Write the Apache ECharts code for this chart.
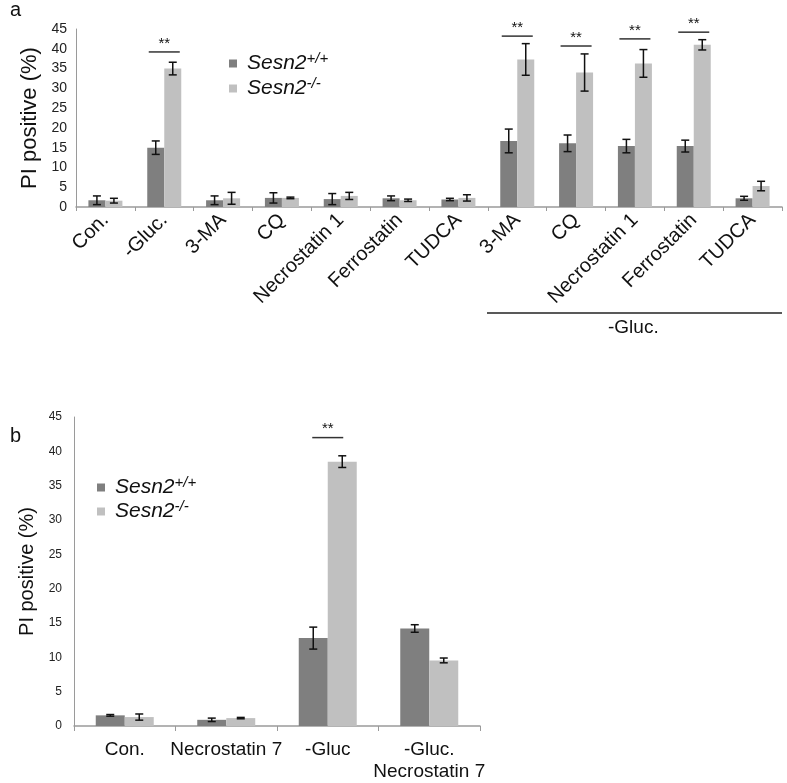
<!DOCTYPE html>
<html>
<head>
<meta charset="utf-8">
<script src="https://cdn.jsdelivr.net/npm/echarts@6/dist/echarts.min.js"></script>
<style>html,body{margin:0;padding:0;background:#fff}#c{width:787px;height:783px}</style>
</head>
<body>
<div id="c"></div>
<script>
// Panel a
const catsA = ['Con.', '-Gluc.', '3-MA', 'CQ', 'Necrostatin 1', 'Ferrostatin', 'TUDCA', '3-MA', 'CQ', 'Necrostatin 1', 'Ferrostatin', 'TUDCA'];
const wtA    = [1.7, 15.0, 1.7, 2.3, 2.0, 2.2, 1.9, 16.7, 16.1, 15.4, 15.4, 2.2];
const wtErrA = [1.1, 1.7, 1.1, 1.3, 1.4, 0.6, 0.3, 3.0, 2.1, 1.7, 1.5, 0.5];
const koA    = [1.6, 35.0, 2.2, 2.3, 2.8, 1.7, 2.3, 37.3, 34.0, 36.3, 41.0, 5.3];
const koErrA = [0.6, 1.6, 1.5, 0.2, 0.9, 0.3, 0.8, 4.0, 4.7, 3.5, 1.3, 1.2];
const sigA   = [[1, 39.2], [7, 43.2], [8, 40.7], [9, 42.5], [10, 44.2]];
// Panel b
const catsB = ['Con.', 'Necrostatin 7', '-Gluc', '-Gluc.\nNecrostatin 7'];
const wtB    = [1.55, 0.9, 12.8, 14.2];
const wtErrB = [0.12, 0.25, 1.6, 0.55];
const koB    = [1.3, 1.15, 38.5, 9.55];
const koErrB = [0.45, 0.1, 0.85, 0.35];
const sigB   = [[2, 42.0]];

const WT = 'Sesn2+/+', KO = 'Sesn2-/-';
const DARK = '#7f7f7f', LIGHT = '#c0c0c0';
const FONT = 'Liberation Sans, Arial, sans-serif';

function errSeries(vals, errs, axis, off) {
  return {
    type: 'custom', xAxisIndex: axis, yAxisIndex: axis, silent: true, z: 5,
    data: vals.map((v, i) => [i, v, errs[i]]),
    renderItem: function (p, api) {
      const i = api.value(0), v = api.value(1), e = api.value(2);
      const bw = api.size([1, 0])[0];
      const x = api.coord([i, v])[0] + off * bw;
      const t = api.coord([i, v + e])[1], b = api.coord([i, v - e])[1];
      const cap = 4, st = { stroke: '#111', lineWidth: 1.5 };
      return { type: 'group', children: [
        { type: 'line', shape: { x1: x, y1: t, x2: x, y2: b }, style: st },
        { type: 'line', shape: { x1: x - cap, y1: t, x2: x + cap, y2: t }, style: st },
        { type: 'line', shape: { x1: x - cap, y1: b, x2: x + cap, y2: b }, style: st }
      ]};
    }
  };
}
function sigSeries(data, axis, half) {
  return {
    type: 'custom', xAxisIndex: axis, yAxisIndex: axis, silent: true, z: 6,
    data: data,
    renderItem: function (p, api) {
      const c = api.coord([api.value(0), api.value(1)]);
      const bw = api.size([1, 0])[0];
      const h = bw * half;
      return { type: 'group', children: [
        { type: 'line', shape: { x1: c[0] - h, y1: c[1], x2: c[0] + h, y2: c[1] }, style: { stroke: '#333', lineWidth: 1.5 } },
        { type: 'text', style: { x: c[0], y: c[1] - 1, text: '**', fill: '#111', font: '15px ' + FONT, align: 'center', verticalAlign: 'bottom' } }
      ]};
    }
  };
}

const legendRich = {
  i: { fontSize: 21, fontStyle: 'italic', fontFamily: FONT, color: '#111', lineHeight: 24, padding: [0, 0, 0, 5] },
  s: { fontSize: 15, fontStyle: 'italic', fontFamily: FONT, color: '#111', verticalAlign: 'top', padding: [0, 0, 10, 0] }
};
const legendFmt = n => n === WT ? '{i|Sesn2}{s|+/+}' : '{i|Sesn2}{s|-/-}';

function yAxis(idx, fs, margin, gap, nfs) {
  return {
    type: 'value', gridIndex: idx, min: 0, max: 45, interval: 5,
    axisLine: { show: true, lineStyle: { color: '#9a9a9a', width: 1 } },
    axisTick: { show: false }, splitLine: { show: false },
    axisLabel: { fontSize: fs, color: '#222', fontFamily: FONT, margin: margin },
    name: 'PI positive (%)', nameLocation: 'middle', nameGap: gap,
    nameTextStyle: { fontSize: nfs, color: '#111', fontFamily: FONT }
  };
}

const chart = echarts.init(document.getElementById('c'));
chart.setOption({
  animation: false,
  backgroundColor: '#fff',
  grid: [
    { left: 76, top: 29, width: 706, height: 178 },
    { left: 74, top: 417, width: 406, height: 312 }
  ],
  xAxis: [
    { type: 'category', gridIndex: 0, data: catsA,
      axisLine: { lineStyle: { color: '#9a9a9a', width: 1.5 } },
      axisTick: { show: true, length: 4, lineStyle: { color: '#9a9a9a' } },
      axisLabel: { interval: 0, rotate: 45, fontSize: 20, color: '#111', fontFamily: FONT, margin: 10 } },
    { type: 'category', gridIndex: 1, data: catsB,
      axisLine: { lineStyle: { color: '#9a9a9a', width: 1.5 } },
      axisTick: { show: true, length: 5, lineStyle: { color: '#9a9a9a' } },
      axisLabel: { interval: 0, fontSize: 19, color: '#111', fontFamily: FONT, margin: 13, lineHeight: 22 } }
  ],
  yAxis: [ yAxis(0, 14, 9, 30, 22), yAxis(1, 12, 12, 29, 20) ],
  legend: [
    { data: [WT, KO], orient: 'vertical', left: 229, top: 51, padding: 0, itemWidth: 8, itemHeight: 8, itemGap: 2, icon: 'rect',
      formatter: legendFmt, textStyle: { rich: legendRich }, selectedMode: false },
    { data: [WT, KO], orient: 'vertical', left: 97, top: 475, padding: 0, itemWidth: 8, itemHeight: 8, itemGap: 1, icon: 'rect',
      formatter: legendFmt, textStyle: { rich: legendRich }, selectedMode: false }
  ],
  graphic: [
    { type: 'text', left: 10, top: 0, style: { text: 'a', font: '20px ' + FONT, fill: '#111' } },
    { type: 'text', left: 10, top: 426, style: { text: 'b', font: '20px ' + FONT, fill: '#111' } },
    { type: 'line', shape: { x1: 487, y1: 313, x2: 782, y2: 313 }, style: { stroke: '#222', lineWidth: 1.5 } },
    { type: 'text', left: 608, top: 318, style: { text: '-Gluc.', font: '19px ' + FONT, fill: '#111' } }
  ],
  series: [
    { name: WT, type: 'bar', xAxisIndex: 0, yAxisIndex: 0, data: wtA, barWidth: 17, barGap: '0%', itemStyle: { color: DARK } },
    { name: KO, type: 'bar', xAxisIndex: 0, yAxisIndex: 0, data: koA, barWidth: 17, barGap: '0%', itemStyle: { color: LIGHT } },
    { name: WT, type: 'bar', xAxisIndex: 1, yAxisIndex: 1, data: wtB, barWidth: 29, barGap: '0%', itemStyle: { color: DARK } },
    { name: KO, type: 'bar', xAxisIndex: 1, yAxisIndex: 1, data: koB, barWidth: 29, barGap: '0%', itemStyle: { color: LIGHT } },
    errSeries(wtA, wtErrA, 0, -17 / 58.8 / 2),
    errSeries(koA, koErrA, 0, 17 / 58.8 / 2),
    errSeries(wtB, wtErrB, 1, -29 / 101.5 / 2),
    errSeries(koB, koErrB, 1, 29 / 101.5 / 2),
    sigSeries(sigA, 0, 15.5 / 58.8),
    sigSeries(sigB, 1, 15.5 / 101.5)
  ]
});
</script>
</body>
</html>
